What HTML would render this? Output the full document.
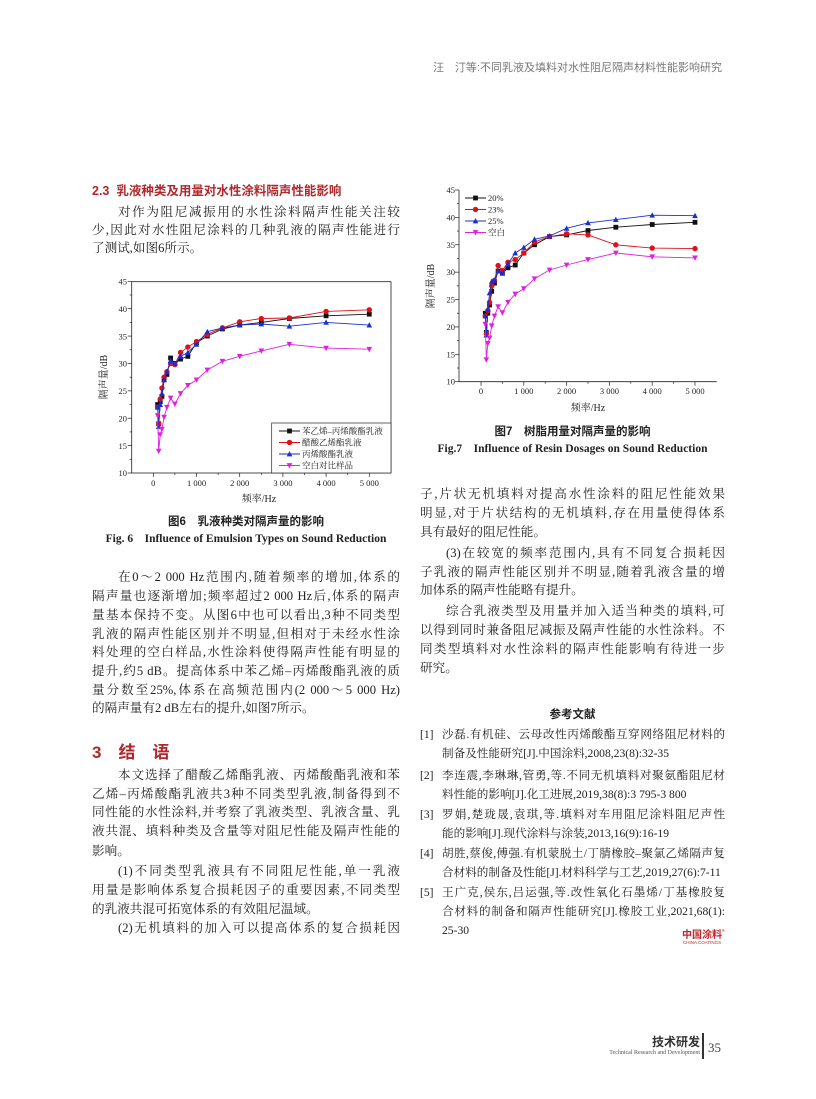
<!DOCTYPE html>
<html><head><meta charset="utf-8">
<style>
html,body{margin:0;padding:0;background:#fff;}
body{width:816px;height:1099px;position:relative;overflow:hidden;font-family:"Liberation Serif","Noto Serif CJK SC","Noto Sans CJK SC",serif;color:#222;}
.l{position:absolute;font-size:12.6px;line-height:16px;white-space:nowrap;text-align:justify;text-align-last:justify;}
.L{left:92px;width:308px;}
.Li{left:118px;width:282px;}
.R{left:420px;width:305px;}
.Ri{left:446px;width:279px;}
.ref{position:absolute;font-size:11.6px;line-height:15px;white-space:nowrap;text-align:justify;text-align-last:justify;}
.h{position:absolute;color:#b0282c;font-weight:bold;font-family:"Liberation Sans","Noto Sans CJK SC",sans-serif;}
.c{position:absolute;text-align:center;font-weight:bold;font-size:11.5px;}
svg{position:absolute;left:0;top:0;}
</style></head><body>
<div style="position:absolute;right:94px;top:59px;font-size:11px;color:#777;font-family:'Liberation Sans','Noto Sans CJK SC',sans-serif;">汪　汀等:不同乳液及填料对水性阻尼隔声材料性能影响研究</div>

<div class="h" style="left:92px;top:180px;font-size:12.5px;">2.3&nbsp; 乳液种类及用量对水性涂料隔声性能影响</div>
<div class="l Li" style="top:204px">对作为阻尼减振用的水性涂料隔声性能关注较</div>
<div class="l L" style="top:222px">少,因此对水性阻尼涂料的几种乳液的隔声性能进行</div>
<div class="l" style="left:92px;top:240px">了测试,如图6所示。</div>

<div class="c" style="left:92px;width:308px;top:513px;font-family:'Liberation Sans','Noto Sans CJK SC',sans-serif;">图6　乳液种类对隔声量的影响</div>
<div class="c" style="left:82px;width:328px;top:530px;">Fig. 6　Influence of Emulsion Types on Sound Reduction</div>

<div class="l Li" style="top:569px">在0～2 000 Hz范围内,随着频率的增加,体系的</div>
<div class="l L" style="top:588px">隔声量也逐渐增加;频率超过2 000 Hz后,体系的隔声</div>
<div class="l L" style="top:607px">量基本保持不变。从图6中也可以看出,3种不同类型</div>
<div class="l L" style="top:626px">乳液的隔声性能区别并不明显,但相对于未经水性涂</div>
<div class="l L" style="top:644px">料处理的空白样品,水性涂料使得隔声性能有明显的</div>
<div class="l L" style="top:663px">提升,约5 dB。提高体系中苯乙烯–丙烯酸酯乳液的质</div>
<div class="l L" style="top:682px">量分数至25%,体系在高频范围内(2 000～5 000 Hz)</div>
<div class="l" style="left:92px;top:700px">的隔声量有2 dB左右的提升,如图7所示。</div>

<div class="h" style="left:92px;top:738px;font-size:17px;">3　结　语</div>
<div class="l Li" style="top:767px">本文选择了醋酸乙烯酯乳液、丙烯酸酯乳液和苯</div>
<div class="l L" style="top:786px">乙烯–丙烯酸酯乳液共3种不同类型乳液,制备得到不</div>
<div class="l L" style="top:804px">同性能的水性涂料,并考察了乳液类型、乳液含量、乳</div>
<div class="l L" style="top:823px">液共混、填料种类及含量等对阻尼性能及隔声性能的</div>
<div class="l" style="left:92px;top:843px">影响。</div>
<div class="l Li" style="top:863px">(1)不同类型乳液具有不同阻尼性能,单一乳液</div>
<div class="l L" style="top:882px">用量是影响体系复合损耗因子的重要因素,不同类型</div>
<div class="l" style="left:92px;top:901px">的乳液共混可拓宽体系的有效阻尼温域。</div>
<div class="l Li" style="top:920px">(2)无机填料的加入可以提高体系的复合损耗因</div>

<div class="c" style="left:420px;width:305px;top:423px;font-family:'Liberation Sans','Noto Sans CJK SC',sans-serif;">图7　树脂用量对隔声量的影响</div>
<div class="c" style="left:420px;width:305px;top:440px;">Fig.7　Influence of Resin Dosages on Sound Reduction</div>

<div class="l R" style="top:486px">子,片状无机填料对提高水性涂料的阻尼性能效果</div>
<div class="l R" style="top:505px">明显,对于片状结构的无机填料,存在用量使得体系</div>
<div class="l" style="left:420px;top:524px">具有最好的阻尼性能。</div>
<div class="l Ri" style="top:545px">(3)在较宽的频率范围内,具有不同复合损耗因</div>
<div class="l R" style="top:564px">子乳液的隔声性能区别并不明显,随着乳液含量的增</div>
<div class="l" style="left:420px;top:582px">加体系的隔声性能略有提升。</div>
<div class="l Ri" style="top:603px">综合乳液类型及用量并加入适当种类的填料,可</div>
<div class="l R" style="top:622px">以得到同时兼备阻尼减振及隔声性能的水性涂料。不</div>
<div class="l R" style="top:641px">同类型填料对水性涂料的隔声性能影响有待进一步</div>
<div class="l" style="left:420px;top:660px">研究。</div>

<div class="c" style="left:420px;width:305px;top:706px;font-family:'Liberation Sans','Noto Sans CJK SC',sans-serif;font-size:11.5px;">参考文献</div>
<div class="ref" style="left:420px;top:727px">[1]</div><div class="ref" style="left:442px;width:283px;top:727px">沙磊.有机硅、云母改性丙烯酸酯互穿网络阻尼材料的</div>
<div class="ref" style="left:442px;top:746px">制备及性能研究[J].中国涂料,2008,23(8):32-35</div>
<div class="ref" style="left:420px;top:768px">[2]</div><div class="ref" style="left:442px;width:283px;top:768px">李连震,李琳琳,管勇,等.不同无机填料对聚氨酯阻尼材</div>
<div class="ref" style="left:442px;top:787px">料性能的影响[J].化工进展,2019,38(8):3 795-3 800</div>
<div class="ref" style="left:420px;top:807px">[3]</div><div class="ref" style="left:442px;width:283px;top:807px">罗娟,楚珑晟,袁琪,等.填料对车用阻尼涂料阻尼声性</div>
<div class="ref" style="left:442px;top:826px">能的影响[J].现代涂料与涂装,2013,16(9):16-19</div>
<div class="ref" style="left:420px;top:846px">[4]</div><div class="ref" style="left:442px;width:283px;top:846px">胡胜,蔡俊,傅强.有机蒙脱土/丁腈橡胶–聚氯乙烯隔声复</div>
<div class="ref" style="left:442px;top:865px">合材料的制备及性能[J].材料科学与工艺,2019,27(6):7-11</div>
<div class="ref" style="left:420px;top:885px">[5]</div><div class="ref" style="left:442px;width:283px;top:885px">王广克,侯东,吕运强,等.改性氧化石墨烯/丁基橡胶复</div>
<div class="ref" style="left:442px;width:283px;top:904px">合材料的制备和隔声性能研究[J].橡胶工业,2021,68(1):</div>
<div class="ref" style="left:442px;top:923px">25-30</div>
<div style="position:absolute;left:682px;top:926px;color:#c0262c;font-weight:bold;font-size:10px;font-family:'Noto Sans CJK SC',sans-serif;">中国涂料<sup style="font-size:5px">®</sup></div>
<div style="position:absolute;left:683px;top:940px;color:#c0262c;font-size:4.5px;font-family:'Liberation Sans',sans-serif;">CHINA COATINGS</div>

<div style="position:absolute;right:116px;top:1033px;font-size:12px;font-weight:bold;color:#333;font-family:'Noto Sans CJK SC',sans-serif;">技术研发</div>
<div style="position:absolute;right:116px;top:1050px;font-size:6px;color:#555;">Technical Research and Development</div>
<div style="position:absolute;left:702px;top:1033px;width:2px;height:26px;background:#333;"></div>
<div style="position:absolute;left:708px;top:1040px;font-size:13px;color:#444;">35</div>

<svg width="816" height="1099" viewBox="0 0 816 1099" font-family="Liberation Serif, Noto Serif CJK SC, serif">
<g id="ax1" stroke="#222" stroke-width="0.8" fill="none">
<rect x="131.7" y="281.7" width="259.3" height="191.3"/>
</g>
<g id="ax2" stroke="#222" stroke-width="0.8" fill="none">
<line x1="459" y1="190" x2="459" y2="381.7"/><line x1="459" y1="381.7" x2="716.7" y2="381.7"/>
</g>
<g font-size="8.5" fill="#222" text-anchor="end">
<text x="127" y="284.5">45</text><text x="127" y="311.9">40</text><text x="127" y="339.3">35</text><text x="127" y="366.7">30</text><text x="127" y="394">25</text><text x="127" y="421.4">20</text><text x="127" y="448.8">15</text><text x="127" y="476">10</text>
<text x="455" y="193">45</text><text x="455" y="220.4">40</text><text x="455" y="247.8">35</text><text x="455" y="275.2">30</text><text x="455" y="302.6">25</text><text x="455" y="330">20</text><text x="455" y="357.4">15</text><text x="455" y="384.5">10</text>
</g>
<g font-size="8.5" fill="#222" text-anchor="middle">
<text x="153.3" y="486">0</text><text x="196.5" y="486">1 000</text><text x="239.7" y="486">2 000</text><text x="282.9" y="486">3 000</text><text x="326.1" y="486">4 000</text><text x="369.3" y="486">5 000</text>
<text x="481" y="394">0</text><text x="523.8" y="394">1 000</text><text x="566.6" y="394">2 000</text><text x="609.4" y="394">3 000</text><text x="652.2" y="394">4 000</text><text x="695" y="394">5 000</text>
<text x="259" y="502" font-size="10">频率/Hz</text>
<text x="588" y="411" font-size="10">频率/Hz</text>
<text transform="translate(107,377) rotate(-90)" font-size="10">隔声量/dB</text>
<text transform="translate(434,286) rotate(-90)" font-size="10">隔声量/dB</text>
</g>
<rect x="271.7" y="423" width="119.3" height="50" fill="#fff" stroke="#222" stroke-width="0.7"/>
<g id="series"></g>
<g font-size="8.5" fill="#222">
<text x="302" y="434">苯乙烯–丙烯酸酯乳液</text><text x="302" y="445.5">醋酸乙烯酯乳液</text><text x="302" y="457">丙烯酸酯乳液</text><text x="302" y="468.5">空白对比样品</text>
<text x="488" y="201">20%</text><text x="488" y="212.5">23%</text><text x="488" y="224">25%</text><text x="488" y="235.5">空白</text>
</g>
</svg>
<script>
(function(){
var F=[100,125,160,200,250,315,400,500,630,800,1000,1250,1600,2000,2500,3150,4000,5000];
var C={k:"#111",r:"#e0101a",b:"#1a2fd0",m:"#e020e0"};
var S1=[["k","s",[22.5,19,23,24,27,28,31,30,30.8,31.3,33.8,35,36.3,37,37.5,38.2,38.7,39]],
["r","c",[22,19,23.5,25.5,27.5,28.5,30,29.8,32,33,34,35.3,36.5,37.6,38.2,38.3,39.5,39.8]],
["b","t",[22,18.5,22.5,24.5,27,28.5,30.5,30,31.3,32,33.5,35.8,36.5,37,37.2,36.8,37.5,37]],
["m","v",[20.5,14,17,18,20.2,22,23.7,22.6,24.5,26,27,28.8,30.4,31.3,32.3,33.5,32.8,32.6]]];
var S2=[["k","s",[22.5,19,22.5,24,26.5,28,30.2,29.8,30.8,31.3,33.5,35,36.5,36.8,37.6,38.2,38.7,39.1]],
["r","c",[22,18.8,23,24.5,27.5,28.5,31.2,30.3,31.8,32.3,33.5,35.5,36.5,37,36.8,35,34.4,34.3]],
["b","t",[22,18.5,23.2,26.2,28.3,28.5,30.2,29.8,31.5,33.5,34.5,36,36.6,38,39,39.6,40.4,40.3]],
["m","v",[20.5,14,17,18,20.2,22,23.7,22.6,24.5,26,27,28.8,30.4,31.3,32.3,33.5,32.8,32.6]]];
function mk(t,x,y,c){var r=2.4;
if(t=="s")return '<rect x="'+(x-r)+'" y="'+(y-r)+'" width="'+2*r+'" height="'+2*r+'" fill="'+c+'"/>';
if(t=="c")return '<circle cx="'+x+'" cy="'+y+'" r="'+(r+0.3)+'" fill="'+c+'"/>';
if(t=="t")return '<polygon points="'+x+','+(y-r-0.6)+' '+(x-r-0.4)+','+(y+r)+' '+(x+r+0.4)+','+(y+r)+'" fill="'+c+'"/>';
return '<polygon points="'+x+','+(y+r+0.6)+' '+(x-r-0.4)+','+(y-r)+' '+(x+r+0.4)+','+(y-r)+'" fill="'+c+'"/>';}
var h="";
function draw(S,x0,sx,y0){S.forEach(function(s){var c=C[s[0]],p=[],m="";
s[2].forEach(function(v,i){var x=x0+F[i]*sx,y=y0-(v-10)*5.477;p.push(x.toFixed(1)+","+y.toFixed(1));m+=mk(s[1],x,y,c);});
h+='<polyline points="'+p.join(" ")+'" fill="none" stroke="'+c+'" stroke-width="0.9"/>'+m;});}
draw(S1,153.3,0.0432,473);draw(S2,481,0.0428,381.7);
var L1=[431,442.5,454,465.5],L2=[198,209.5,221,232.5];
S1.forEach(function(s,i){var c=C[s[0]];h+='<line x1="279" x2="300" y1="'+L1[i]+'" y2="'+L1[i]+'" stroke="'+c+'"/>'+mk(s[1],289.5,L1[i],c);});
S2.forEach(function(s,i){var c=C[s[0]];h+='<line x1="465" x2="486" y1="'+L2[i]+'" y2="'+L2[i]+'" stroke="'+c+'"/>'+mk(s[1],475.5,L2[i],c);});
// ticks
for(var f=0;f<=5000;f+=500){var x=153.3+f*0.0432;h+='<line x1="'+x+'" x2="'+x+'" y1="473" y2="'+(f%1000?475:477)+'" stroke="#222" stroke-width="0.7"/>';
x=481+f*0.0428;h+='<line x1="'+x+'" x2="'+x+'" y1="381.7" y2="'+(f%1000?383.7:385.7)+'" stroke="#222" stroke-width="0.7"/>';}
for(var v=10;v<=45;v+=2.5){var y=473-(v-10)*5.477;h+='<line x1="131.7" x2="'+(v%5?129.7:127.7)+'" y1="'+y+'" y2="'+y+'" stroke="#222" stroke-width="0.7"/>';
y=381.7-(v-10)*5.477;h+='<line x1="459" x2="'+(v%5?457:455)+'" y1="'+y+'" y2="'+y+'" stroke="#222" stroke-width="0.7"/>';}
document.getElementById("series").innerHTML=h;
})();
</script>
</body></html>
